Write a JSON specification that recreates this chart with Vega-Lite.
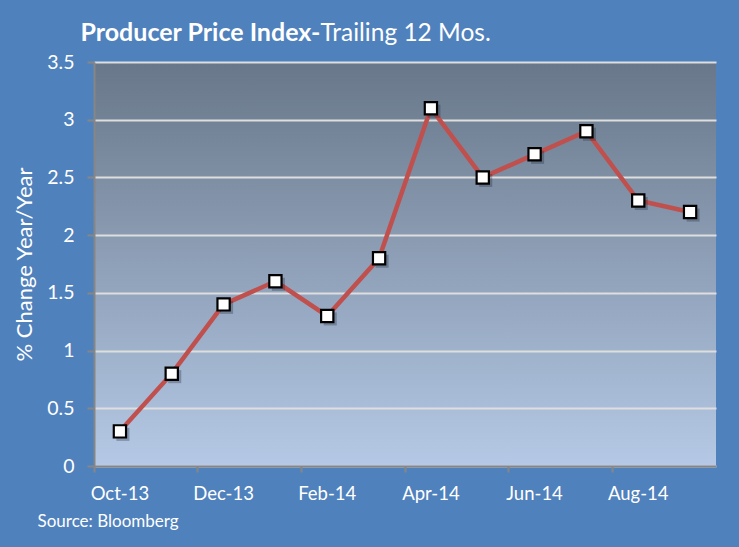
{
  "$schema": "https://vega.github.io/schema/vega-lite/v6.json",
  "width": 622,
  "height": 404,
  "autosize": {"type": "none"},
  "padding": {"left": 94, "top": 62, "right": 23, "bottom": 81},
  "background": "#4f81bd",
  "config": {
    "view": {
      "stroke": null,
      "fill": {
        "gradient": "linear",
        "x1": 0, "y1": 0, "x2": 0, "y2": 1,
        "stops": [
          {"offset": 0, "color": "#687789"},
          {"offset": 1, "color": "#b5c9e6"}
        ]
      }
    },
    "axis": {
      "labelFont": "Lato",
      "labelFontSize": 18.5,
      "labelColor": "white",
      "titleFont": "Lato",
      "titleColor": "white",
      "titleFontWeight": "normal",
      "domainColor": "#868686",
      "domainWidth": 2,
      "tickColor": "#868686",
      "tickWidth": 2
    }
  },
  "data": {
    "values": [
      {"month": "Oct-13", "value": 0.3},
      {"month": "Nov-13", "value": 0.8},
      {"month": "Dec-13", "value": 1.4},
      {"month": "Jan-14", "value": 1.6},
      {"month": "Feb-14", "value": 1.3},
      {"month": "Mar-14", "value": 1.8},
      {"month": "Apr-14", "value": 3.1},
      {"month": "May-14", "value": 2.5},
      {"month": "Jun-14", "value": 2.7},
      {"month": "Jul-14", "value": 2.9},
      {"month": "Aug-14", "value": 2.3},
      {"month": "Sep-14", "value": 2.2}
    ]
  },
  "resolve": {"axis": {"x": "independent", "y": "independent"}},
  "layer": [
    {
      "mark": {"type": "line", "color": "#c0504d", "strokeWidth": 4.5},
      "encoding": {
        "x": {
          "field": "month",
          "type": "ordinal",
          "sort": null,
          "scale": {"type": "band", "paddingInner": 0, "paddingOuter": 0},
          "axis": {
            "values": ["Oct-13", "Dec-13", "Feb-14", "Apr-14", "Jun-14", "Aug-14"],
            "bandPosition": 0,
            "labelDx": 26,
            "labelAngle": 0,
            "labelAlign": "center",
            "tickSize": 6,
            "labelPadding": 12,
            "grid": false,
            "title": "Source: Bloomberg",
            "titleFontSize": 17,
            "titleAnchor": "start",
            "titleAlign": "left",
            "titleBaseline": "alphabetic",
            "titleX": -57,
            "titleY": 60
          }
        },
        "y": {
          "field": "value",
          "type": "quantitative",
          "scale": {"domain": [0, 3.5], "nice": false},
          "axis": {
            "values": [0, 0.5, 1, 1.5, 2, 2.5, 3, 3.5],
            "format": "~g",
            "labelFontSize": 19.5,
            "title": "% Change Year/Year",
            "titleFontSize": 22,
            "titlePadding": 10,
            "tickSize": 7,
            "labelPadding": 13,
            "gridColor": "#dedede",
            "gridWidth": 2
          }
        }
      }
    },
    {
      "mark": {"type": "point", "shape": "square", "filled": true, "fill": "#1a2535", "opacity": 0.3, "size": 170, "xOffset": 3, "yOffset": 3},
      "encoding": {
        "x": {"field": "month", "type": "ordinal", "sort": null, "axis": null},
        "y": {"field": "value", "type": "quantitative", "axis": null}
      }
    },
    {
      "mark": {"type": "point", "shape": "square", "filled": true, "fill": "white", "stroke": "black", "strokeWidth": 2.2, "size": 150, "opacity": 1},
      "encoding": {
        "x": {
          "field": "month",
          "type": "ordinal",
          "sort": null,
          "axis": {
            "orient": "top",
            "domain": false,
            "ticks": false,
            "labels": false,
            "grid": false,
            "title": "Producer Price Index-",
            "titleFontSize": 25,
            "titleFontWeight": "bold",
            "titleAnchor": "start",
            "titleAlign": "left",
            "titleBaseline": "alphabetic",
            "titleX": -14,
            "titleY": -22
          }
        },
        "y": {
          "field": "value",
          "type": "quantitative",
          "axis": {
            "orient": "right",
            "domain": false,
            "ticks": false,
            "labels": false,
            "grid": false,
            "title": "Trailing 12 Mos.",
            "titleFontSize": 24.5,
            "titleAngle": 0,
            "titleAnchor": "start",
            "titleAlign": "left",
            "titleBaseline": "alphabetic",
            "titleX": -396,
            "titleY": -22
          }
        }
      }
    }
  ]
}
